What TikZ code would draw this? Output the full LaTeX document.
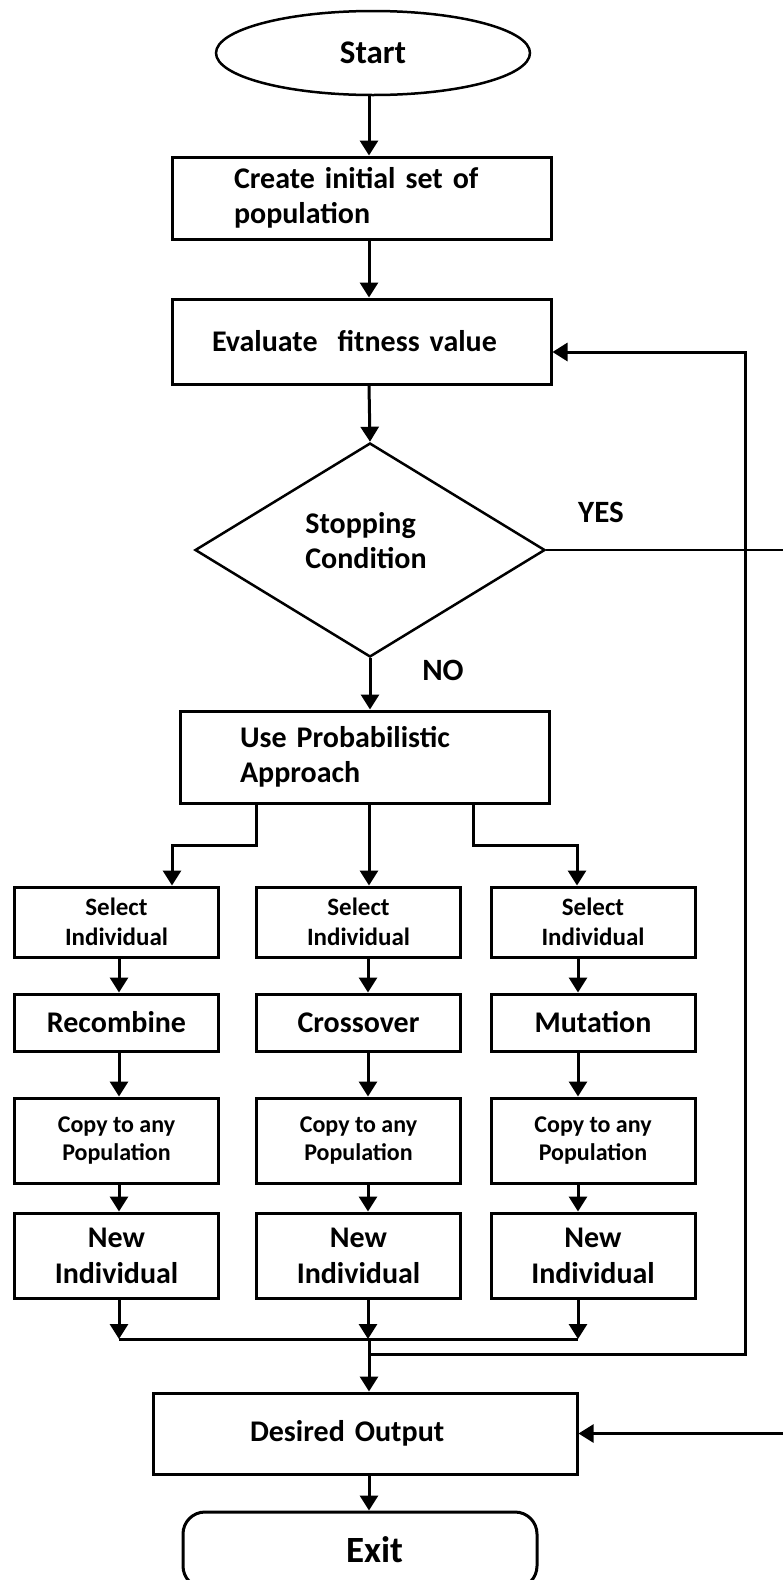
\documentclass[tikz,border=0pt]{standalone}
\usepackage{fontspec}
\setmainfont{Carlito}
\usetikzlibrary{shapes.geometric,arrows.meta}
\begin{document}
\begin{tikzpicture}[x=1pt,y=-1pt]
\tikzset{
  box/.style={draw, line width=3pt, rectangle, inner sep=0pt, align=center,
    font=\fontsize{30}{35}\selectfont\bfseries},
  small/.style={font=\fontsize{25}{30}\selectfont\bfseries},
  colbox/.style={box, minimum width=204pt},
  lbl/.style={inner sep=0pt, font=\fontsize{31}{36}\selectfont\bfseries},
  link/.style={line width=3pt},
  arr/.style={line width=3pt, -{Triangle[width=18pt,length=15pt]}},
}
\useasboundingbox (0,0) rectangle (782,1580);

% main column
\node[box, ellipse, line width=2.5pt, minimum width=314pt, minimum height=84pt,
  font=\fontsize{33}{38}\selectfont\bfseries] (start) at (373,53) {Start};
\node[box, minimum width=379pt, minimum height=82pt, text width=255pt,
  inner xsep=62pt, align=left] (init) at (361.5,198) {Create initial set of\\population};
\node[box, minimum width=379pt, minimum height=85pt, text width=299pt,
  inner xsep=40pt, align=left] (eval) at (361.5,341.5) {Evaluate\ \ fitness value};
\node[draw, diamond, line width=2.5pt, minimum width=350pt, minimum height=214pt,
  inner sep=0pt] (stop) at (370,550) {};
\node[inner sep=0pt, align=left, font=\fontsize{30}{35}\selectfont\bfseries]
  (stoptxt) at (366,541) {Stopping\\Condition};
\node[box, minimum width=369pt, minimum height=92pt, text width=249pt,
  inner xsep=60pt, align=left] (prob) at (364.5,757) {Use Probabilistic\\Approach};

\node[lbl] (yes) at (601,512) {YES};
\node[lbl] (no) at (443,670) {NO};

% three parallel branches
\node[colbox, small, minimum height=70pt] (selL) at (116.5,922) {Select\\Individual};
\node[colbox, small, minimum height=70pt] (selM) at (358.5,922) {Select\\Individual};
\node[colbox, small, minimum height=70pt] (selR) at (593,922) {Select\\Individual};

\node[colbox, minimum height=57pt] (opL) at (116.5,1022.5) {Recombine};
\node[colbox, minimum height=57pt] (opM) at (358.5,1022.5) {Crossover};
\node[colbox, minimum height=57pt] (opR) at (593,1022.5) {Mutation};

\node[colbox, small, minimum height=85pt, font=\fontsize{24}{28}\selectfont\bfseries] (cpL) at (116.5,1140.5) {Copy to any\\Population};
\node[colbox, small, minimum height=85pt, font=\fontsize{24}{28}\selectfont\bfseries] (cpM) at (358.5,1140.5) {Copy to any\\Population};
\node[colbox, small, minimum height=85pt, font=\fontsize{24}{28}\selectfont\bfseries] (cpR) at (593,1140.5) {Copy to any\\Population};

\node[colbox, minimum height=85pt, font=\fontsize{30}{36}\selectfont\bfseries] (newL) at (116.5,1255.5) {New\\Individual};
\node[colbox, minimum height=85pt, font=\fontsize{30}{36}\selectfont\bfseries] (newM) at (358.5,1255.5) {New\\Individual};
\node[colbox, minimum height=85pt, font=\fontsize{30}{36}\selectfont\bfseries] (newR) at (593,1255.5) {New\\Individual};

% end of the flow
\node[box, minimum width=424pt, minimum height=81pt, text width=230pt,
  inner xsep=97pt, align=left] (out) at (365,1433.5) {Desired Output};
\node[box, rounded corners=22pt, minimum width=354pt, minimum height=76pt,
  text width=86pt, inner xsep=134pt, align=right,
  font=\fontsize{37}{42}\selectfont\bfseries] (exit) at (360,1550) {Exit};

% helper coordinates for the connector lines
\coordinate (ax) at (369,0);
\coordinate (bL) at (256,845);
\coordinate (bR) at (473,845);
\coordinate (kL) at (172,0);
\coordinate (kR) at (577,0);
\coordinate (cL) at (119,0);
\coordinate (cM) at (368,0);
\coordinate (cR) at (578,0);
\coordinate (mL) at (119,1339);
\coordinate (mM) at (369,1339);
\coordinate (mR) at (578,1339);
\coordinate (fb) at (369,1354);
\coordinate (fbR) at (745,1354);
\coordinate (fbT) at (745,352);
\coordinate (yR) at (800,550);

% main flow
\draw[arr] (start.south -| ax) -- (init.north -| ax);
\draw[arr] (init.south -| ax) -- (eval.north -| ax);
\draw[arr] (eval.south -| ax) -- (stop.north);
\draw[arr] (stop.south) -- (prob.north -| stop.south);

% split into the three branches
\draw[arr] (prob.south -| bL) -- (bL) -| (selL.north -| kL);
\draw[arr] (prob.south -| ax) -- (selM.north -| ax);
\draw[arr] (prob.south -| bR) -- (bR) -| (selR.north -| kR);

% steps inside each branch
\foreach \c in {L,M,R}{
  \draw[arr] (sel\c.south -| c\c) -- (op\c.north -| c\c);
  \draw[arr] (op\c.south -| c\c) -- (cp\c.north -| c\c);
  \draw[arr] (cp\c.south -| c\c) -- (new\c.north -| c\c);
}
\draw[arr] (newL.south -| cL) -- (mL);
\draw[arr] (newM.south -| cM) -- (mM -| cM);
\draw[arr] (newR.south -| cR) -- (mR);
\draw[link] (mL) -- (mR);

% merge, loop back and output
\draw[arr] (mM) -- (out.north -| ax);
\draw[arr] (fb) -- (fbR) -- (fbT) -- (eval.east |- fbT);
\draw[arr, line width=2.5pt] (stop.east) -- (stop.east -| yR) |- (out.east);
\draw[arr] (out.south -| ax) -- (exit.north -| ax);
\end{tikzpicture}
\end{document}
